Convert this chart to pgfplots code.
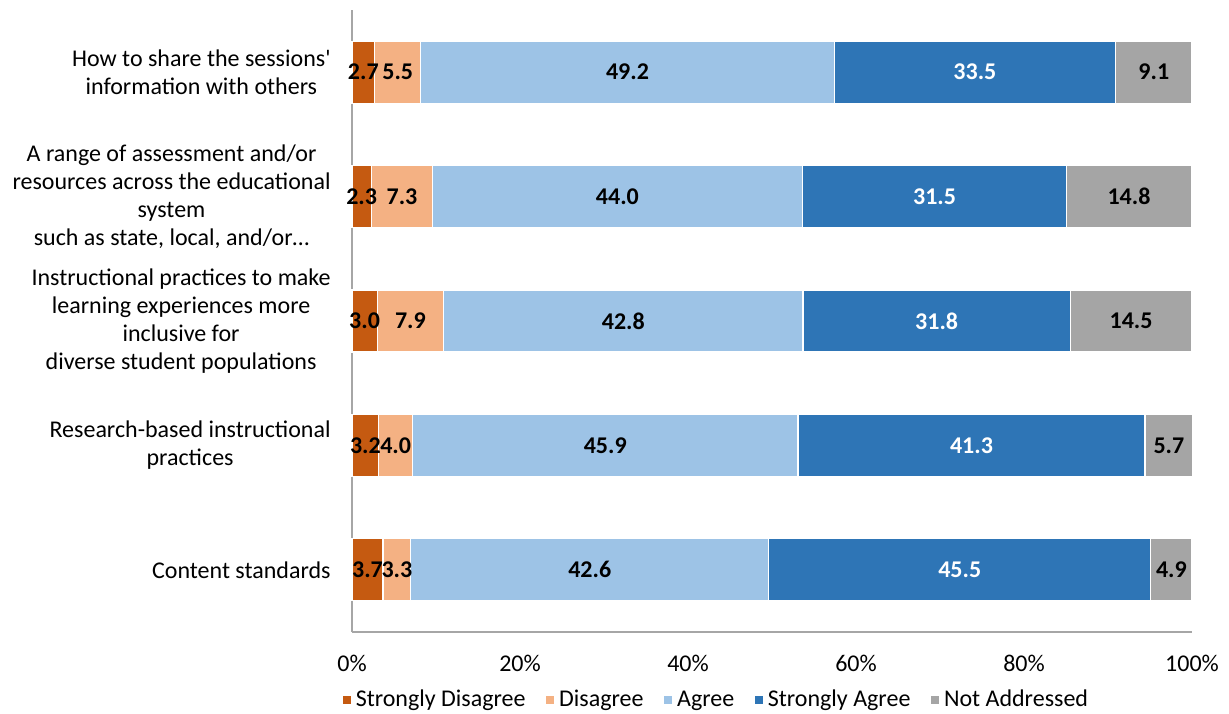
\documentclass[border=0pt]{standalone}
\usepackage{fontspec}
\setmainfont{Carlito}
\usepackage{pgfplots}
\usepackage{pgfplotstable}
\pgfplotsset{compat=1.18}
\usetikzlibrary{calc}
\definecolor{sd}{HTML}{C55A11}
\definecolor{di}{HTML}{F4B183}
\definecolor{ag}{HTML}{9DC3E6}
\definecolor{sa}{HTML}{2E75B6}
\definecolor{na}{HTML}{A5A5A5}
\definecolor{axgray}{HTML}{A6A6A6}
% y: 0 Content standards, 1 Research-based, 2 Instructional, 3 Range, 4 How to share
\pgfplotstableread{
y  sd   di   ag    sa    na
0  3.7  3.3  42.6  45.5  4.9
1  3.2  4.0  45.9  41.3  5.7
2  3.0  7.9  42.8  31.8  14.5
3  2.3  7.3  44.0  31.5  14.8
4  2.7  5.5  49.2  33.5  9.1
}\datatable
\pgfplotsset{
  base/.style={scale only axis, width=420pt, height=311pt,
    xmin=0, xmax=100, ymin=-0.5, ymax=4.5, clip=false},
  lbl/.style={only marks, mark=text, text mark={}, forget plot,
    point meta=explicit symbolic, nodes near coords,
    every node near coord/.style={font=\fontsize{12}{14}\selectfont\bfseries, anchor=center, inner sep=0pt}},
}
\begin{document}
\begin{tikzpicture}
\begin{axis}[
  base,
  xbar stacked,
  bar width=31pt,
  axis lines*=left,
  axis line style={draw=axgray, line width=0.7pt, -},
  major tick length=0pt,
  xtick={0,20,40,60,80,100},
  xticklabel={\pgfmathprintnumber{\tick}\%},
  ytick={0,1,2,3,4},
  yticklabels={
    Content standards,
    {Research-based instructional\\practices},
    {Instructional practices to make\\learning experiences more\\inclusive for\\diverse student populations},
    {A range of assessment and/or\\resources across the educational\\system\\such as state, local, and/or…},
    {How to share the sessions\textquotesingle\\information with others}},
  /pgf/number format/assume math mode=true,
  tick label style={font=\fontsize{12}{14}\selectfont},
  yticklabel style={align=center, inner sep=0pt, xshift=-10.5pt},
  xticklabel style={inner sep=0pt, yshift=-11.5pt},
  legend columns=5,
  legend style={at={(0,0)}, anchor=west, xshift=-5.5pt, yshift=-34pt, draw=none, inner sep=0pt,
    font=\fontsize{12}{14}\selectfont,
    /tikz/every even column/.append style={column sep=7.6pt}},
  legend image code/.code={\fill[#1] (0pt,-2.3pt) rectangle (4.6pt,2.3pt);},
]
\addplot[fill=sd, draw=white, line width=0.6pt] table[x=sd, y=y] {\datatable};
\addplot[fill=di, draw=white, line width=0.6pt] table[x=di, y=y] {\datatable};
\addplot[fill=ag, draw=white, line width=0.6pt] table[x=ag, y=y] {\datatable};
\addplot[fill=sa, draw=white, line width=0.6pt] table[x=sa, y=y] {\datatable};
\addplot[fill=na, draw=white, line width=0.6pt] table[x=na, y=y] {\datatable};
\legend{Strongly Disagree, Disagree, Agree, Strongly Agree, Not Addressed}
\end{axis}
\begin{axis}[base, hide axis]
\addplot[lbl] table[x expr={\thisrow{sd}/2}, y=y, meta=sd] {\datatable};
\addplot[lbl] table[x expr={\thisrow{sd}+\thisrow{di}/2}, y=y, meta=di] {\datatable};
\addplot[lbl] table[x expr={\thisrow{sd}+\thisrow{di}+\thisrow{ag}/2}, y=y, meta=ag] {\datatable};
\addplot[lbl, every node near coord/.append style={text=white}] table[x expr={\thisrow{sd}+\thisrow{di}+\thisrow{ag}+\thisrow{sa}/2}, y=y, meta=sa] {\datatable};
\addplot[lbl] table[x expr={\thisrow{sd}+\thisrow{di}+\thisrow{ag}+\thisrow{sa}+\thisrow{na}/2}, y=y, meta=na] {\datatable};
\end{axis}
\pgfresetboundingbox
\path ($(current axis.south west)+(-176pt,-40.5pt)$) rectangle ($(current axis.north east)+(18.5pt,5pt)$);
\end{tikzpicture}
\end{document}
